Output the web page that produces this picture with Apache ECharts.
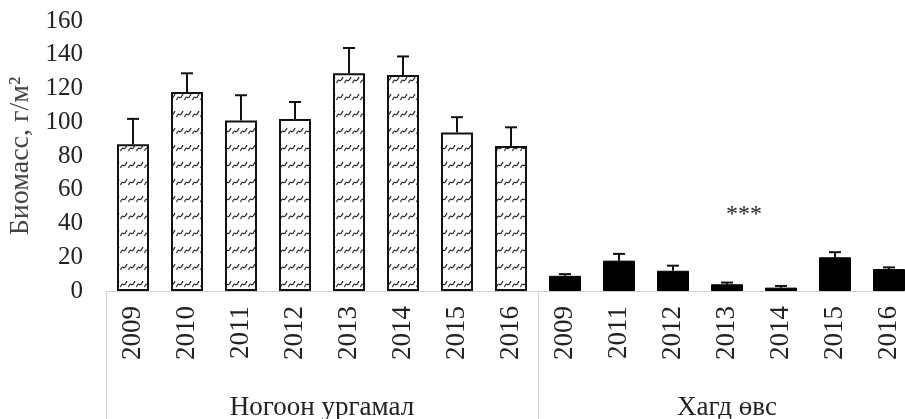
<!DOCTYPE html>
<html>
<head>
<meta charset="utf-8">
<script src="https://cdn.jsdelivr.net/npm/echarts@6/dist/echarts.min.js"></script>
<style>
  html, body { margin: 0; padding: 0; background: #fff; }
  #chart { width: 905px; height: 419px; }
</style>
</head>
<body>
<div id="chart"></div>
<script>
var years = ['2009', '2010', '2011', '2012', '2013', '2014', '2015', '2016',
             '2009', '2011', '2012', '2013', '2014', '2015', '2016'];
var groupNames = ['Ногоон ургамал', 'Хагд өвс'];
var groupSizes = [8, 7];
var biomass = [87, 118, 101, 102, 129, 128, 94, 86,
               9, 18, 12, 4, 2, 20, 13];
var errors = [15, 11, 15, 10, 15, 11, 9, 11,
              1, 4, 3, 1, 1, 3, 1];
var yTicks = [0, 20, 40, 60, 80, 100, 120, 140, 160];

var font = '"Liberation Serif", "Times New Roman", serif';

// hatch tile like excel's little wave pattern
function makeHatch() {
  var c = document.createElement('canvas');
  c.width = 8;
  c.height = 17;
  var ctx = c.getContext('2d');
  ctx.fillStyle = '#fff';
  ctx.fillRect(0, 0, 8, 17);
  ctx.strokeStyle = '#222';
  ctx.lineWidth = 1.2;
  ctx.beginPath();
  ctx.moveTo(0.5, 15);
  ctx.quadraticCurveTo(2, 11, 3.5, 12.5);
  ctx.quadraticCurveTo(5, 13.5, 7, 9);
  ctx.stroke();
  return c;
}
var hatch = { image: makeHatch(), repeat: 'repeat' };

// group boundaries and centres on a 0..15 scale
var bounds = [0];
var centres = [];
groupSizes.forEach(function (n, i) {
  centres.push(bounds[i] + n / 2);
  bounds.push(bounds[i] + n);
});

var barData = biomass.map(function (v, i) {
  var first = i < groupSizes[0];
  return {
    value: v,
    itemStyle: first
      ? { color: hatch, borderColor: '#111', borderWidth: 2 }
      : { color: '#000', borderColor: '#000', borderWidth: 1 }
  };
});
var errData = biomass.map(function (v, i) { return [i, v, v + errors[i]]; });

var chart = echarts.init(document.getElementById('chart'));
chart.setOption({
  animation: false,
  grid: { left: 106, top: 21, width: 810, bottom: 128, outerBoundsMode: 'none', containLabel: false },
  xAxis: [
    {
      type: 'category',
      data: years,
      axisLine: { lineStyle: { color: '#d0d0d0', width: 1 } },
      axisTick: { show: false },
      axisLabel: {
        rotate: 90, margin: 15, fontFamily: font, fontSize: 27, color: '#222'
      }
    },
    {
      type: 'value',
      min: 0, max: 15,
      position: 'bottom',
      axisLine: { show: false },
      splitLine: { show: false },
      axisTick: {
        show: true, length: 128, customValues: bounds,
        lineStyle: { color: '#d0d0d0', width: 1 }
      },
      axisLabel: {
        customValues: centres, margin: 103,
        fontFamily: font, fontSize: 27, color: '#222',
        formatter: function (v) {
          var k = centres.indexOf(v);
          return k >= 0 ? groupNames[k] : '';
        }
      }
    }
  ],
  yAxis: {
    type: 'value',
    min: 0, max: 160, interval: 20,
    name: 'Биомасс, г/м²',
    nameLocation: 'middle',
    nameGap: 71,
    nameTextStyle: { fontFamily: font, fontSize: 28, color: '#444' },
    axisLine: { show: false },
    axisTick: { show: false },
    splitLine: { show: false },
    axisLabel: {
      margin: 23, fontFamily: font, fontSize: 25, color: '#222',
      customValues: yTicks
    }
  },
  graphic: [{
    type: 'text', left: 726, top: 203,
    style: { text: '***', fontFamily: font, fontSize: 24, fill: '#222' }
  }],
  series: [
    {
      type: 'bar',
      barWidth: 32,
      data: barData
    },
    {
      type: 'custom',
      data: errData,
      encode: { x: 0, y: [1, 2] },
      z: 3,
      renderItem: function (params, api) {
        var lo = api.coord([api.value(0), api.value(1)]);
        var hi = api.coord([api.value(0), api.value(2)]);
        var hw = 6;
        var st = { stroke: '#111', lineWidth: 2 };
        return {
          type: 'group',
          children: [
            { type: 'line', shape: { x1: lo[0], y1: lo[1], x2: hi[0], y2: hi[1] }, style: st },
            { type: 'line', shape: { x1: hi[0] - hw, y1: hi[1], x2: hi[0] + hw, y2: hi[1] }, style: st }
          ]
        };
      }
    }
  ]
});
</script>
</body>
</html>
